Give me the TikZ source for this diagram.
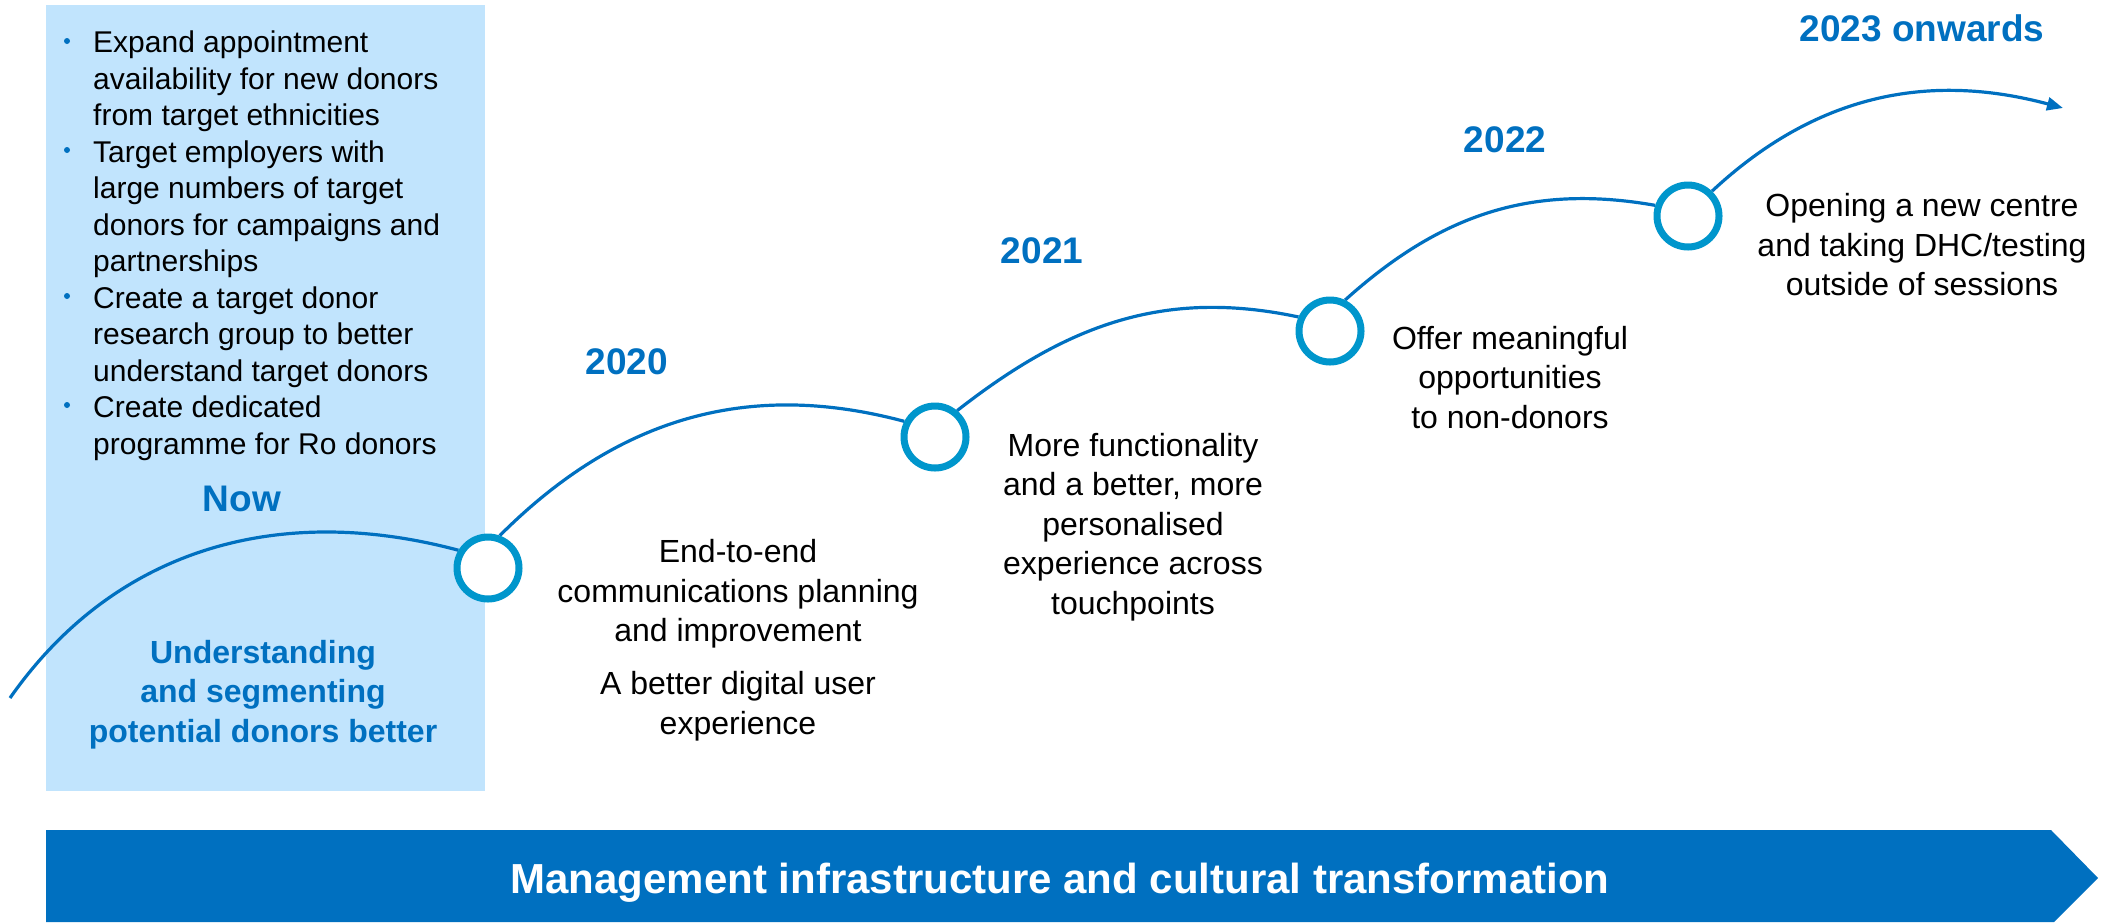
\documentclass[tikz,border=0pt]{standalone}
\usepackage{fontspec}
\setmainfont{Liberation Sans}
\usetikzlibrary{arrows.meta,backgrounds}

\definecolor{nowblue}{RGB}{0,112,192}
\definecolor{ringblue}{RGB}{0,150,204}
\definecolor{paleblue}{RGB}{193,228,253}

\begin{document}
\begin{tikzpicture}[x=1pt,y=1pt,
	milestone/.style={circle, draw=ringblue, line width=7pt, fill=white,
		minimum size=62pt, inner sep=0pt},
	track/.style={draw=nowblue, line width=3.2pt},
	year/.style={text=nowblue, inner sep=0pt,
		font=\bfseries\fontsize{37}{44}\selectfont},
	aim/.style={align=center, inner sep=0pt,
		font=\fontsize{32}{39.5}\selectfont}]

% frame %{{{2

	\useasboundingbox (0,0) rectangle (2116,-922);

% milestones %{{{2

	\node[milestone] (m1) at (488,-568) {};
	\node[milestone] (m2) at (935,-437) {};
	\node[milestone] (m3) at (1330,-331) {};
	\node[milestone] (m4) at (1688,-216) {};

	% ---- loose ends of the track

	\coordinate (start) at (10,-698);
	\coordinate (finish) at (2063,-108);

% box and track, behind the milestones %{{{2

	\begin{scope}[on background layer]
		\fill[paleblue] (46,-5) rectangle (485,-791);

		\draw[track] (start) to[out=55,in=165] (m1.149);
		\draw[track] (m1.70) to[out=45,in=165] (m2.153);
		\draw[track] (m2.50) to[out=38,in=168] (m3.156);
		\draw[track] (m3.64) to[out=42,in=170] (m4.162);
		\draw[track, -{Triangle[length=16pt,width=13pt]}]
			(m4.46) to[out=43,in=165] (finish);
	\end{scope}

% now: bullet list %{{{2

	\fill[nowblue] (67,-41) circle (3pt);
	\fill[nowblue] (67,-150) circle (3pt);
	\fill[nowblue] (67,-296) circle (3pt);
	\fill[nowblue] (67,-405) circle (3pt);

	\node[anchor=north west, align=left, inner sep=0pt,
		font=\fontsize{30}{36.5}\selectfont] (goals) at (93,-31)
		{Expand appointment\\
		availability for new donors\\
		from target ethnicities\\
		Target employers with\\
		large numbers of target\\
		donors for campaigns and\\
		partnerships\\
		Create a target donor\\
		research group to better\\
		understand target donors\\
		Create dedicated\\
		programme for Ro donors};

	\node[year] (now) at (242,-498.5) {Now};

	\node[aim, text=nowblue, font=\bfseries\fontsize{32}{39.5}\selectfont]
		(focus) at (263,-694.5)
		{Understanding\\and segmenting\\potential donors better};

% years %{{{2

	\node[year] (y2020) at (627,-362) {2020};
	\node[year] (y2021) at (1042,-251) {2021};
	\node[year] (y2022) at (1505,-140) {2022};
	\node[year] (y2023) at (1922,-28.5) {2023 onwards};

% what each year brings %{{{2

	\node[aim] (plan2020) at (738,-640)
		{End-to-end\\communications planning\\and improvement\\[13.5pt]
		A better digital user\\experience};
	\node[aim] (plan2021) at (1133,-527)
		{More functionality\\and a better, more\\personalised\\experience across\\touchpoints};
	\node[aim] (plan2022) at (1510,-377.5)
		{Offer meaningful\\opportunities\\to non-donors};
	\node[aim] (plan2023) at (1922,-245)
		{Opening a new centre\\and taking DHC/testing\\outside of sessions};

% banner %{{{2

	\fill[nowblue] (46,-830) -- (2051,-830) -- (2098,-878)
		-- (2054,-922) -- (46,-922) -- cycle;

	\node[anchor=base, inner sep=0pt, text=white,
		font=\bfseries\fontsize{42}{50}\selectfont] (banner) at (1060,-893)
		{Management infrastructure and cultural transformation};

\end{tikzpicture}
\end{document}
